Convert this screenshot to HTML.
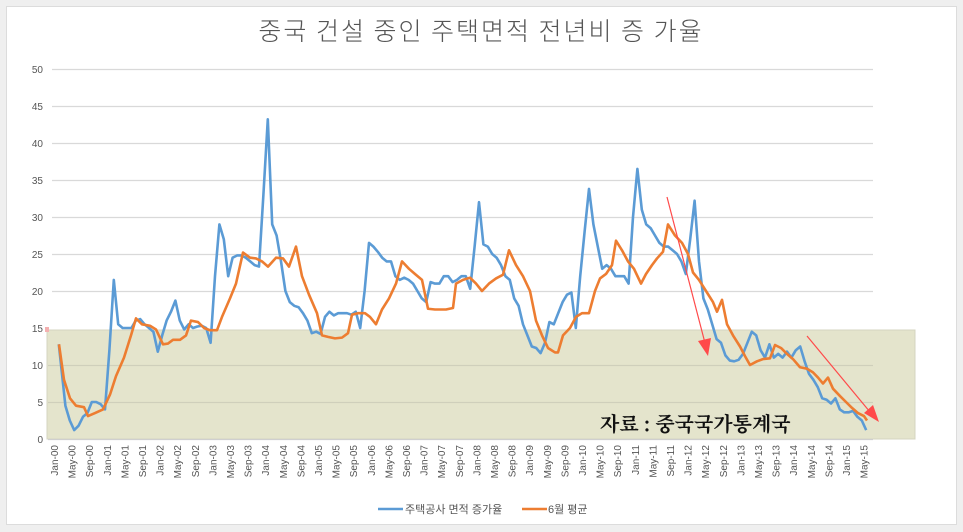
<!DOCTYPE html>
<html><head><meta charset="utf-8"><style>
html,body{margin:0;padding:0;background:#efefef;}
body{width:963px;height:532px;overflow:hidden;position:relative;font-family:"Liberation Sans","Noto Sans CJK KR",sans-serif;}
</style></head><body>
<svg width="963" height="532" xmlns="http://www.w3.org/2000/svg" style="position:absolute;left:0;top:0">
<rect x="0" y="0" width="963" height="532" fill="#efefef"/>
<rect x="6.5" y="6.5" width="950" height="518" fill="#fff" stroke="#dcdcdc"/>
<text x="481" y="40" text-anchor="middle" font-family="'Noto Sans CJK KR',sans-serif" font-weight="300" font-size="25" fill="#555" letter-spacing="2">중국 건설 중인 주택면적  전년비 증 가율</text>
<rect x="47" y="330" width="868" height="109" fill="#e4e4cc" stroke="#d4d4c0"/>
<rect x="45" y="327" width="4" height="5" fill="#f4b0b0"/>
<g stroke="#d9d9d9" stroke-width="1.3">
<line x1="52" x2="873" y1="69.5" y2="69.5"/><line x1="52" x2="873" y1="106.5" y2="106.5"/>
<line x1="52" x2="873" y1="143.5" y2="143.5"/><line x1="52" x2="873" y1="180.5" y2="180.5"/>
<line x1="52" x2="873" y1="217.5" y2="217.5"/><line x1="52" x2="873" y1="254.5" y2="254.5"/>
<line x1="52" x2="873" y1="291.5" y2="291.5"/>
</g>
<g stroke="#cfcfbb" stroke-width="1.3">
<line x1="48" x2="873" y1="365.5" y2="365.5"/><line x1="48" x2="873" y1="402.5" y2="402.5"/>
</g>
<line x1="48" x2="873" y1="439.5" y2="439.5" stroke="#cfcfcf" stroke-width="1.3"/>
<g font-size="10" fill="#555" text-anchor="end">
<text x="43" y="73">50</text><text x="43" y="110">45</text><text x="43" y="147">40</text>
<text x="43" y="184">35</text><text x="43" y="221">30</text><text x="43" y="258">25</text>
<text x="43" y="295">20</text><text x="43" y="332">15</text><text x="43" y="369">10</text>
<text x="43" y="406">5</text><text x="43" y="443">0</text>
</g>
<g font-size="10" fill="#555" text-anchor="end">
<text transform="translate(58,445) rotate(-90)">Jan-00</text><text transform="translate(75.6,445) rotate(-90)">May-00</text><text transform="translate(93.2,445) rotate(-90)">Sep-00</text>
<text transform="translate(110.8,445) rotate(-90)">Jan-01</text><text transform="translate(128.4,445) rotate(-90)">May-01</text><text transform="translate(146,445) rotate(-90)">Sep-01</text>
<text transform="translate(163.6,445) rotate(-90)">Jan-02</text><text transform="translate(181.2,445) rotate(-90)">May-02</text><text transform="translate(198.8,445) rotate(-90)">Sep-02</text>
<text transform="translate(216.4,445) rotate(-90)">Jan-03</text><text transform="translate(234,445) rotate(-90)">May-03</text><text transform="translate(251.6,445) rotate(-90)">Sep-03</text>
<text transform="translate(269.2,445) rotate(-90)">Jan-04</text><text transform="translate(286.8,445) rotate(-90)">May-04</text><text transform="translate(304.4,445) rotate(-90)">Sep-04</text>
<text transform="translate(322,445) rotate(-90)">Jan-05</text><text transform="translate(339.6,445) rotate(-90)">May-05</text><text transform="translate(357.2,445) rotate(-90)">Sep-05</text>
<text transform="translate(374.8,445) rotate(-90)">Jan-06</text><text transform="translate(392.4,445) rotate(-90)">May-06</text><text transform="translate(410,445) rotate(-90)">Sep-06</text>
<text transform="translate(427.6,445) rotate(-90)">Jan-07</text><text transform="translate(445.2,445) rotate(-90)">May-07</text><text transform="translate(462.8,445) rotate(-90)">Sep-07</text>
<text transform="translate(480.4,445) rotate(-90)">Jan-08</text><text transform="translate(498,445) rotate(-90)">May-08</text><text transform="translate(515.6,445) rotate(-90)">Sep-08</text>
<text transform="translate(533.2,445) rotate(-90)">Jan-09</text><text transform="translate(550.8,445) rotate(-90)">May-09</text><text transform="translate(568.4,445) rotate(-90)">Sep-09</text>
<text transform="translate(586,445) rotate(-90)">Jan-10</text><text transform="translate(603.6,445) rotate(-90)">May-10</text><text transform="translate(621.2,445) rotate(-90)">Sep-10</text>
<text transform="translate(638.8,445) rotate(-90)">Jan-11</text><text transform="translate(656.4,445) rotate(-90)">May-11</text><text transform="translate(674,445) rotate(-90)">Sep-11</text>
<text transform="translate(691.6,445) rotate(-90)">Jan-12</text><text transform="translate(709.2,445) rotate(-90)">May-12</text><text transform="translate(726.8,445) rotate(-90)">Sep-12</text>
<text transform="translate(744.4,445) rotate(-90)">Jan-13</text><text transform="translate(762,445) rotate(-90)">May-13</text><text transform="translate(779.6,445) rotate(-90)">Sep-13</text>
<text transform="translate(797.2,445) rotate(-90)">Jan-14</text><text transform="translate(814.8,445) rotate(-90)">May-14</text><text transform="translate(832.4,445) rotate(-90)">Sep-14</text>
<text transform="translate(850,445) rotate(-90)">Jan-15</text><text transform="translate(867.6,445) rotate(-90)">May-15</text>
</g>
<g transform="translate(61,439) scale(4.4,-7.4)">
<polyline fill="none" stroke="#5b9bd5" stroke-width="2.6" vector-effect="non-scaling-stroke" stroke-linejoin="round" points="-0.5,12.8 1,4.5 2,2.5 3,1.2 4,1.8 5,3 6,3.5 7,5 8,5 9,4.7 10,4 11,12 12,21.5 13,15.5 14,15 15,15 16,15 17,16 18,16.2 19,15.5 20,15 21,14.5 22,11.8 23,14 24,16 25,17.2 26,18.7 27,16 28,14.8 29,15.5 30,15 31,15.2 32,15.3 33,15 34,13 35,22 36,29 37,27 38,22 39,24.5 40,24.8 41,24.8 42,24.5 43,24 44,23.5 45,23.3 46,33 47,43.2 48,29 49,27.5 50,24 51,20 52,18.5 53,18 54,17.8 55,17 56,16 57,14.3 58,14.5 59,14.2 60,16.5 61,17.2 62,16.7 63,17 64,17 65,17 66,16.8 67,17.2 68,15 69,20 70,26.5 71,26 72,25.3 73,24.5 74,24 75,24 76,22 77,21.5 78,21.8 79,21.5 80,21 81,20 82,19 83,18.5 84,21.2 85,21 86,21 87,22 88,22 89,21.2 90,21.5 91,22 92,22 93,20.3 94,26 95,32 96,26.3 97,26 98,25 99,24.5 100,23.5 101,22 102,21.5 103,19 104,18 105,15.5 106,14 107,12.5 108,12.3 109,11.6 110,13 111,15.8 112,15.5 113,17 114,18.5 115,19.5 116,19.8 117,15 118,22 119,28 120,33.8 121,29 122,26 123,23 124,23.5 125,23 126,22 127,22 128,22 129,21 130,30 131,36.5 132,31 133,29 134,28.5 135,27.5 136,26.5 137,26 138,26 139,25.5 140,25 141,24 142,22.3 143,27 144,32.2 145,24 146,19 147,17.5 148,15.5 149,13.5 150,13 151,11.3 152,10.6 153,10.5 154,10.7 155,11.5 156,13 157,14.5 158,14 159,12 160,11 161,12.8 162,11 163,11.5 164,11 165,11.8 166,11 167,12 168,12.5 169,10.5 170,8.8 171,8 172,7 173,5.5 174,5.3 175,4.8 176,5.5 177,4 178,3.6 179,3.6 180,3.8 181,3 182,2.5 183,1.2"/>
</g>
<g transform="translate(0,439) scale(1,-7.4)">
<polyline fill="none" stroke="#ed7d31" stroke-width="2.6" vector-effect="non-scaling-stroke" stroke-linejoin="round" points="59,12.8 64,8 70,5.5 76,4.5 84,4.3 88,3.1 95,3.5 103,4 110,6 116,8.5 124,11 131,14 136,16.3 142,15.5 150,15.3 156,14.8 163,12.8 168,12.9 173,13.4 180,13.4 186,14 191,16 198,15.8 204,15 210,14.7 217,14.7 222,16.5 230,19 236,21 243,25.2 250,24.5 256,24.4 262,24 268,23.3 276,24.5 283,24.4 289,23.3 296,26 302,22 309,19.5 317,17 322,14 328,13.8 335,13.6 342,13.7 348,14.3 352,16.8 358,17 365,17 370,16.5 376,15.5 382,17.5 389,19 396,21 402,24 409,23 415,22.3 422,21.5 428,17.6 435,17.5 446,17.5 453,17.7 456,21 463,21.5 470,21.8 476,21 482,20 489,21 496,21.7 503,22.2 509,25.5 516,23.5 523,22 530,20 536,16 542,14 548,12.3 555,11.7 558,11.7 563,14 570,15 576,16.5 582,17 589,17 595,20 600,21.7 606,22.3 612,23.5 616,26.8 622,25.5 628,24 634,23 641,21 646,22.3 652,23.5 657,24.4 663,25.3 668,29 675,27.5 682,26.5 688,25 693,22.5 699,21.5 706,20 713,18.5 717,17.2 722,18.8 727,15.5 733,14 740,12.5 745,11.2 750,10 757,10.5 763,10.8 770,10.9 775,12.7 781,12.3 787,11.5 793,10.8 800,9.7 807,9.5 813,9 818,8.3 823,7.5 828,8.3 833,6.8 840,5.8 846,5 852,4.2 858,3.5 864,3.1 867,2.5"/>
</g>
<g stroke="#ff4a4a" stroke-width="1.2" fill="#ff4a4a">
<line x1="667" y1="197" x2="705" y2="343"/>
<polygon points="708,356 698,341 711,338" stroke="none"/>
<line x1="807" y1="336" x2="870" y2="412"/>
<polygon points="879,422 864,413 873,405" stroke="none"/>
</g>
<text x="600" y="431" font-family="'Noto Serif CJK SC','Noto Sans CJK KR',serif" font-weight="bold" font-size="20" fill="#111">자료 : 중국국가통계국</text>
<line x1="378" y1="509" x2="403" y2="509" stroke="#5b9bd5" stroke-width="2.6"/>
<text x="405" y="513" font-size="11" fill="#555">주택공사 면적 증가율</text>
<line x1="522" y1="509" x2="547" y2="509" stroke="#ed7d31" stroke-width="2.6"/>
<text x="548" y="513" font-size="11" fill="#555">6월 평균</text>
</svg>
</body></html>
